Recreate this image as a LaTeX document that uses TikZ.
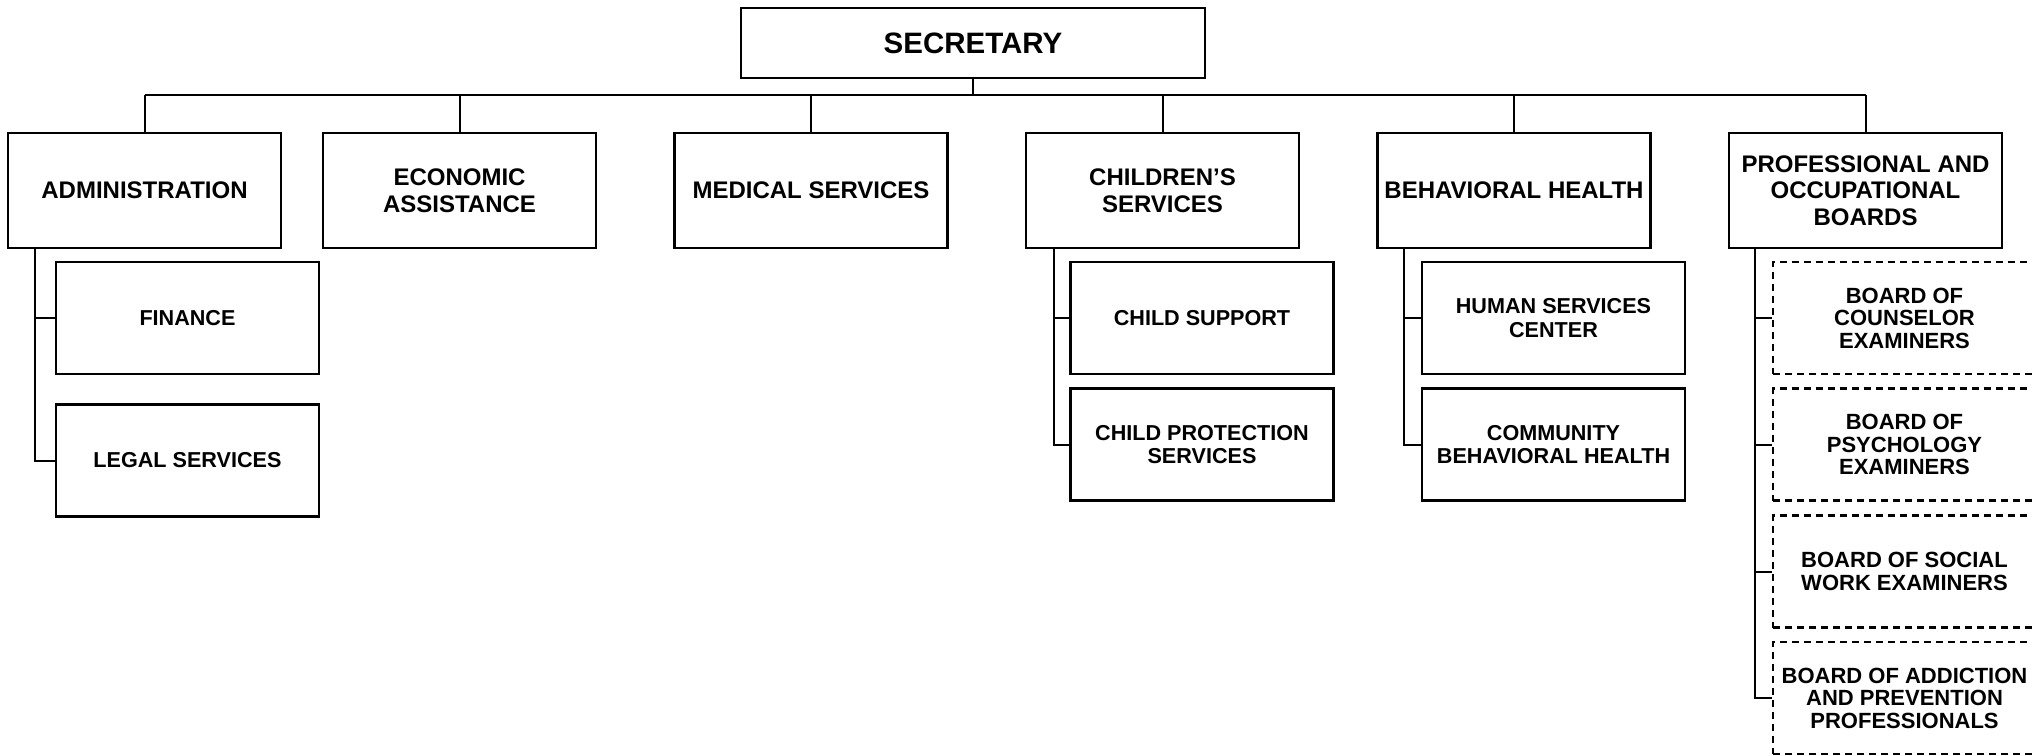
\documentclass[tikz,border=0pt]{standalone}
\usepackage{fontspec}
\setmainfont{Liberation Sans}
\begin{document}
\begin{tikzpicture}[x=1pt,y=-1pt,
  box/.style={draw=black, line width=2.2pt, rectangle, inner sep=0pt, align=center,
              font=\bfseries\fontsize{24}{26.5}\selectfont},
  topbox/.style={box, minimum width=273pt, minimum height=115pt},
  subbox/.style={box, minimum width=263pt, minimum height=112pt,
                 font=\bfseries\fontsize{21.6}{23.2}\selectfont},
  boardbox/.style={subbox, dash pattern=on 7pt off 5pt,
                   font=\bfseries\fontsize{22}{22.5}\selectfont},
  link/.style={draw=black, line width=2pt}]

\useasboundingbox (0,0) rectangle (2032,755);

% head of the department
\node[box, minimum width=464pt, minimum height=70pt,
      font=\bfseries\fontsize{29.5}{32}\selectfont] (sec) at (973,43) {SECRETARY};

% divisions
\node[topbox] (adm)  at (144.5,190.5)  {ADMINISTRATION};
\node[topbox] (eco)  at (459.5,190.5)  {ECONOMIC\\ASSISTANCE};
\node[topbox] (med)  at (811,190.5)    {MEDICAL SERVICES};
\node[topbox] (chi)  at (1162.5,190.5) {CHILDREN’S\\SERVICES};
\node[topbox] (beh)  at (1514,190.5)   {BEHAVIORAL HEALTH};
\node[topbox] (prof) at (1865.5,190.5) {PROFESSIONAL AND\\OCCUPATIONAL\\BOARDS};

% units under the divisions
\node[subbox] (fin)   at (187.5,318)  {FINANCE};
\node[subbox] (leg)   at (187.5,460.5){LEGAL SERVICES};
\node[subbox] (csup)  at (1202,318)   {CHILD SUPPORT};
\node[subbox] (cprot) at (1202,444.5) {CHILD PROTECTION\\SERVICES};
\node[subbox] (hsc)   at (1553.5,318) {HUMAN SERVICES\\CENTER};
\node[subbox] (cbh)   at (1553.5,444.5){COMMUNITY\\BEHAVIORAL HEALTH};

% licensing boards
\node[boardbox] (bcou) at (1904.5,318)   {BOARD OF\\COUNSELOR\\EXAMINERS};
\node[boardbox] (bpsy) at (1904.5,444.5) {BOARD OF\\PSYCHOLOGY\\EXAMINERS};
\node[boardbox] (bsoc) at (1904.5,571.5) {BOARD OF SOCIAL\\WORK EXAMINERS};
\node[boardbox] (badd) at (1904.5,698)   {BOARD OF ADDICTION\\AND PREVENTION\\PROFESSIONALS};

% bus from the secretary to the divisions
\coordinate (bus) at (0,95);
\draw[link] (sec.south) -- (sec.south |- bus);
\draw[link] (adm.north |- bus) -- (prof.north |- bus);
\foreach \n in {adm,eco,med,chi,beh,prof}
  \draw[link] (\n.north) -- (\n.north |- bus);

% stems down to the units
\coordinate (admS)  at ([xshift=28pt]adm.south west);
\coordinate (chiS)  at ([xshift=29pt]chi.south west);
\coordinate (behS)  at ([xshift=28pt]beh.south west);
\coordinate (profS) at ([xshift=27pt]prof.south west);

\draw[link] (admS) |- (leg.west);
\draw[link] (fin.west) -- (fin.west -| admS);
\draw[link] (chiS) |- (cprot.west);
\draw[link] (csup.west) -- (csup.west -| chiS);
\draw[link] (behS) |- (cbh.west);
\draw[link] (hsc.west) -- (hsc.west -| behS);
\draw[link] (profS) |- (badd.west);
\foreach \n in {bcou,bpsy,bsoc}
  \draw[link] (\n.west) -- (\n.west -| profS);

\end{tikzpicture}
\end{document}
